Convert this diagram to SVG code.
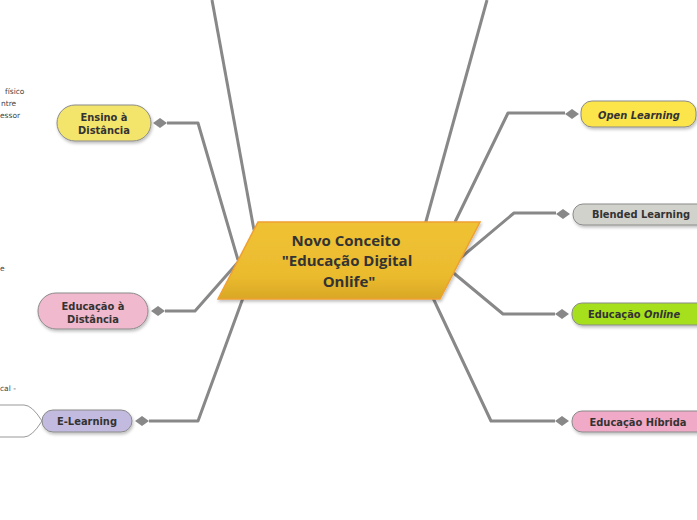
<svg xmlns="http://www.w3.org/2000/svg" width="697" height="520" viewBox="0 0 697 520">
<defs>
<linearGradient id="gCenter" x1="0" y1="0" x2="0" y2="1">
<stop offset="0" stop-color="#efc234"/>
<stop offset="0.7" stop-color="#ebbb2e"/>
<stop offset="1" stop-color="#d9a726"/>
</linearGradient>
<linearGradient id="gStub" x1="0" y1="0" x2="1" y2="0">
<stop offset="0" stop-color="#c8c8c8"/>
<stop offset="0.6" stop-color="#b0b0b0"/>
<stop offset="1" stop-color="#888"/>
</linearGradient>
<filter id="sh" x="-10%" y="-20%" width="130%" height="150%">
<feDropShadow dx="1" dy="2" stdDeviation="1.5" flood-color="#000" flood-opacity="0.25"/>
</filter>
</defs>
<style>
.c{fill:none;stroke:#888;stroke-width:3;stroke-linejoin:round}
.n{stroke:#8a8a8a;stroke-width:1;filter:url(#sh)}
.t{font-family:"DejaVu Sans Condensed","Liberation Sans",Arial,sans-serif;font-weight:bold;font-size:11px;fill:#333;text-anchor:middle}
.ct{font-family:"Open Sans","Noto Sans",sans-serif;font-weight:bold;font-size:15px;fill:#333;text-anchor:middle}
.s{font-family:"DejaVu Sans",Verdana,sans-serif;font-size:7.5px;fill:#444}
.dm{fill:#888}
</style>

<g id="connectors">
<path class="c" d="M212 0 L254 230"/>
<path class="c" d="M487 0 L425 225"/>
<path class="c" d="M167 123 L198 123 L238 260"/>
<path class="c" d="M165 311 L195 311 L240 260"/>
<path class="c" d="M149 421 L198 421 L243 298"/>
<path class="c" d="M455 222 L508 113 L565 113"/>
<path class="c" d="M458 260 L514 213 L556 213"/>
<path class="c" d="M450 270 L503 314 L555 314"/>
<path class="c" d="M433 298 L491 421 L555 421"/>
<path class="dm" d="M153 123 L160 118 L167 123 L160 128 Z"/>
<path class="dm" d="M151 311 L158 306 L165 311 L158 316 Z"/>
<path class="dm" d="M135 421 L142 416 L149 421 L142 426 Z"/>
<path class="dm" d="M565 114 L572 109 L579 114 L572 119 Z"/>
<path class="dm" d="M556 214 L563 209 L570 214 L563 219 Z"/>
<path class="dm" d="M555 314 L562 309 L569 314 L562 319 Z"/>
<path class="dm" d="M555 421 L562 416 L569 421 L562 426 Z"/>
<path d="M0 123 L57 123" stroke="url(#gStub)" stroke-width="1.5" fill="none"/>
<path d="M0 311 L38 311" stroke="url(#gStub)" stroke-width="1.5" fill="none"/>
</g>

<g id="center">
<path d="M258 222 L480 222 L440 299 L218 299 Z" fill="url(#gCenter)" stroke="#f0a030" stroke-width="1.5" filter="url(#sh)"/>
<text class="ct" x="346" y="246">Novo Conceito</text>
<text class="ct" x="347" y="266">"Educação Digital</text>
<text class="ct" x="349" y="287">Onlife"</text>
</g>

<g id="ensino">
<text class="s" x="5" y="94">físico</text>
<text class="s" x="1" y="106">ntre</text>
<text class="s" x="0" y="118">essor</text>
<rect class="n" x="57" y="105" width="94" height="36" rx="18" fill="#f3e46c"/>
<text class="t" x="104" y="121">Ensino à</text>
<text class="t" x="104" y="134">Distância</text>
</g>

<g id="educacao-distancia">
<text class="s" x="0" y="271">e</text>
<rect class="n" x="38" y="293" width="110" height="36" rx="18" fill="#f0b9cd"/>
<text class="t" x="93" y="310">Educação à</text>
<text class="t" x="93" y="323">Distância</text>
</g>

<g id="elearning">
<text class="s" x="0" y="391">cal -</text>
<path d="M0 405 L24 405 Q32 405 42 421 Q32 437 24 437 L0 437" fill="#fff" stroke="#999" stroke-width="1"/>
<rect class="n" x="42" y="410" width="90" height="22" rx="11" fill="#c2bbdf"/>
<text class="t" x="87" y="425">E-Learning</text>
</g>

<g id="open-learning">
<rect class="n" x="581" y="101" width="115" height="26" rx="11" fill="#fbe54c"/>
<text class="t" x="639" y="119" font-style="italic" fill="#111">Open Learning</text>
</g>

<g id="blended">
<rect class="n" x="573" y="204" width="135" height="21" rx="10" fill="#d2d2cc"/>
<text class="t" x="641" y="218">Blended Learning</text>
</g>

<g id="online">
<rect class="n" x="572" y="303" width="135" height="22" rx="10" fill="#a6e01c"/>
<text class="t" x="634" y="318" fill="#111">Educação <tspan font-style="italic">Online</tspan></text>
</g>

<g id="hibrida">
<rect class="n" x="572" y="411" width="135" height="21" rx="10" fill="#f0a9c6"/>
<text class="t" x="638" y="426">Educação Híbrida</text>
</g>
</svg>
